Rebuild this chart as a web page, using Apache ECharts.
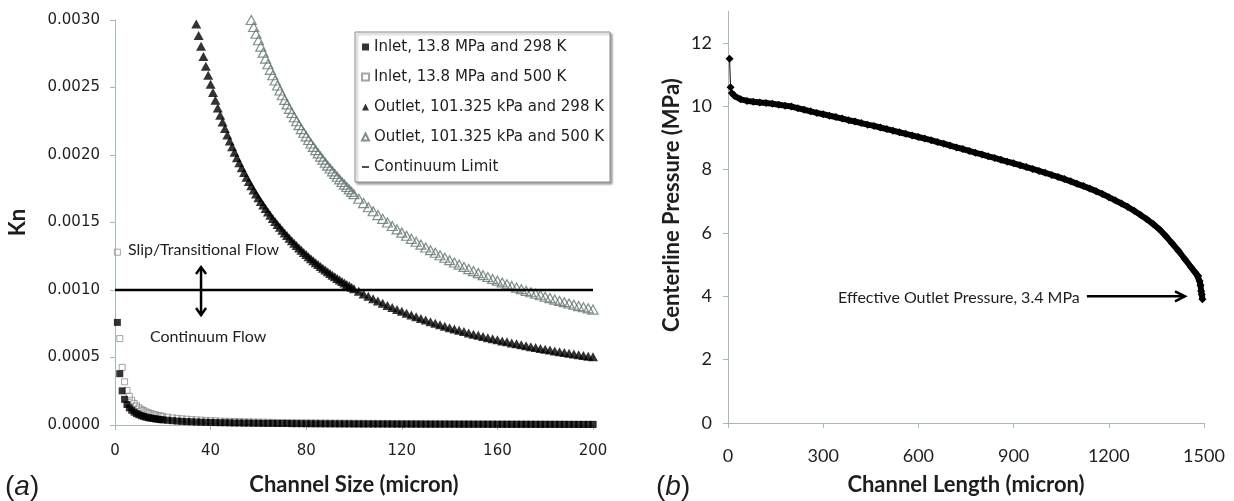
<!DOCTYPE html>
<html><head><meta charset="utf-8">
<script src="https://cdn.jsdelivr.net/npm/echarts@6/dist/echarts.min.js"></script>
<style>html,body{margin:0;padding:0;background:#fff}#c{width:1234px;height:501px}</style>
</head><body><div id="c"></div>
<script>
// ---------- DATA ----------
function range(a, b, s) { const r = []; for (let v = a; v <= b; v += s) r.push(v); return r; }

// Panel (a): channel size (micron) grids
const inletSize = range(1, 20, 1).concat(range(22, 200, 2));
const outlet298Size = range(34, 100, 1).concat(range(102, 200, 2));
const outlet500Size = range(57, 100, 1).concat(range(102, 200, 2));

const inlet298Kn = [
  7.6e-4, 3.8e-4, 2.53e-4, 1.9e-4, 1.52e-4, 1.27e-4, 1.09e-4, 9.5e-5, 8.4e-5, 7.6e-5,
  6.9e-5, 6.3e-5, 5.8e-5, 5.4e-5, 5.1e-5, 4.8e-5, 4.5e-5, 4.2e-5, 4.0e-5, 3.8e-5,
  3.5e-5, 3.2e-5, 2.9e-5, 2.7e-5, 2.5e-5, 2.4e-5, 2.2e-5, 2.1e-5, 2.0e-5, 1.9e-5,
  1.8e-5, 1.7e-5, 1.7e-5, 1.6e-5, 1.5e-5, 1.5e-5, 1.4e-5, 1.4e-5, 1.3e-5, 1.3e-5,
  1.2e-5, 1.2e-5, 1.2e-5, 1.1e-5, 1.1e-5, 1.1e-5, 1.0e-5, 1.0e-5, 9.7e-6, 9.5e-6,
  9.3e-6, 9.0e-6, 8.8e-6, 8.6e-6, 8.4e-6, 8.3e-6, 8.1e-6, 7.9e-6, 7.8e-6, 7.6e-6,
  7.5e-6, 7.3e-6, 7.2e-6, 7.0e-6, 6.9e-6, 6.8e-6, 6.7e-6, 6.6e-6, 6.4e-6, 6.3e-6,
  6.2e-6, 6.1e-6, 6.0e-6, 5.9e-6, 5.8e-6, 5.8e-6, 5.7e-6, 5.6e-6, 5.5e-6, 5.4e-6,
  5.4e-6, 5.3e-6, 5.2e-6, 5.1e-6, 5.1e-6, 5.0e-6, 4.9e-6, 4.9e-6, 4.8e-6, 4.8e-6,
  4.7e-6, 4.6e-6, 4.6e-6, 4.5e-6, 4.5e-6, 4.4e-6, 4.4e-6, 4.3e-6, 4.3e-6, 4.2e-6,
  4.2e-6, 4.1e-6, 4.1e-6, 4.0e-6, 4.0e-6, 4.0e-6, 3.9e-6, 3.9e-6, 3.8e-6, 3.8e-6
];
const inlet500Kn = [
  1.28e-3, 6.4e-4, 4.27e-4, 3.2e-4, 2.56e-4, 2.13e-4, 1.83e-4, 1.6e-4, 1.42e-4, 1.28e-4,
  1.16e-4, 1.07e-4, 9.8e-5, 9.1e-5, 8.5e-5, 8.0e-5, 7.5e-5, 7.1e-5, 6.7e-5, 6.4e-5,
  5.8e-5, 5.3e-5, 4.9e-5, 4.6e-5, 4.3e-5, 4.0e-5, 3.8e-5, 3.6e-5, 3.4e-5, 3.2e-5,
  3.1e-5, 2.9e-5, 2.8e-5, 2.7e-5, 2.6e-5, 2.5e-5, 2.4e-5, 2.3e-5, 2.2e-5, 2.1e-5,
  2.1e-5, 2.0e-5, 1.9e-5, 1.9e-5, 1.8e-5, 1.8e-5, 1.7e-5, 1.7e-5, 1.6e-5, 1.6e-5,
  1.56e-5, 1.52e-5, 1.49e-5, 1.45e-5, 1.42e-5, 1.39e-5, 1.36e-5, 1.33e-5, 1.31e-5, 1.28e-5,
  1.25e-5, 1.23e-5, 1.21e-5, 1.19e-5, 1.16e-5, 1.14e-5, 1.12e-5, 1.10e-5, 1.08e-5, 1.07e-5,
  1.05e-5, 1.03e-5, 1.02e-5, 1.00e-5, 9.8e-6, 9.7e-6, 9.6e-6, 9.4e-6, 9.3e-6, 9.1e-6,
  9.0e-6, 8.9e-6, 8.8e-6, 8.6e-6, 8.5e-6, 8.4e-6, 8.3e-6, 8.2e-6, 8.1e-6, 8.0e-6,
  7.9e-6, 7.8e-6, 7.7e-6, 7.6e-6, 7.5e-6, 7.4e-6, 7.4e-6, 7.3e-6, 7.2e-6, 7.1e-6,
  7.0e-6, 7.0e-6, 6.9e-6, 6.8e-6, 6.7e-6, 6.7e-6, 6.6e-6, 6.5e-6, 6.5e-6, 6.4e-6
];
const outlet298Kn = [
  0.002971, 0.002886, 0.002806, 0.00273, 0.002658, 0.00259, 0.002525, 0.002463, 0.002405, 0.002349,
  0.002295, 0.002244, 0.002196, 0.002149, 0.002104, 0.002061, 0.00202, 0.00198, 0.001942, 0.001906,
  0.00187, 0.001836, 0.001804, 0.001772, 0.001741, 0.001712, 0.001683, 0.001656, 0.001629, 0.001603,
  0.001578, 0.001554, 0.00153, 0.001507, 0.001485, 0.001464, 0.001443, 0.001423, 0.001403, 0.001384,
  0.001365, 0.001347, 0.001329, 0.001312, 0.001295, 0.001278, 0.001263, 0.001247, 0.001232, 0.001217,
  0.001202, 0.001188, 0.001174, 0.001161, 0.001148, 0.001135, 0.001122, 0.00111, 0.001098, 0.001086,
  0.001074, 0.001063, 0.001052, 0.001041, 0.001031, 0.00102, 0.00101,
  0.00099, 0.000971, 0.000953, 0.000935, 0.000918, 0.000902, 0.000886, 0.000871, 0.000856, 0.000842,
  0.000828, 0.000815, 0.000802, 0.000789, 0.000777, 0.000765, 0.000754, 0.000743, 0.000732, 0.000721,
  0.000711, 0.000701, 0.000692, 0.000682, 0.000673, 0.000664, 0.000656, 0.000647, 0.000639, 0.000631,
  0.000623, 0.000616, 0.000608, 0.000601, 0.000594, 0.000587, 0.00058, 0.000574, 0.000567, 0.000561,
  0.000555, 0.000549, 0.000543, 0.000537, 0.000532, 0.000526, 0.000521, 0.000515, 0.00051, 0.000505
];
const outlet500Kn = [
  0.003, 0.002948, 0.002898, 0.00285, 0.002803, 0.002758, 0.002714, 0.002672, 0.002631, 0.002591,
  0.002552, 0.002515, 0.002478, 0.002443, 0.002408, 0.002375, 0.002342, 0.002311, 0.00228, 0.00225,
  0.002221, 0.002192, 0.002165, 0.002138, 0.002111, 0.002085, 0.00206, 0.002036, 0.002012, 0.001988,
  0.001966, 0.001943, 0.001921, 0.0019, 0.001879, 0.001859, 0.001839, 0.001819, 0.0018, 0.001781,
  0.001763, 0.001745, 0.001727, 0.00171,
  0.001676, 0.001644, 0.001613, 0.001583, 0.001555, 0.001527, 0.0015, 0.001474, 0.001449, 0.001425,
  0.001402, 0.001379, 0.001357, 0.001336, 0.001315, 0.001295, 0.001276, 0.001257, 0.001239, 0.001221,
  0.001204, 0.001188, 0.001171, 0.001155, 0.00114, 0.001125, 0.00111, 0.001096, 0.001082, 0.001069,
  0.001056, 0.001043, 0.00103, 0.001018, 0.001006, 0.000994, 0.000983, 0.000972, 0.000961, 0.00095,
  0.00094, 0.000929, 0.000919, 0.00091, 0.0009, 0.000891, 0.000881, 0.000872, 0.000864, 0.000855
];
const continuumSize = [0, 200];
const continuumKn = [0.001, 0.001];
const knTicks = [0, 0.0005, 0.001, 0.0015, 0.002, 0.0025, 0.003];

const seriesNamesA = [
  'Inlet, 13.8 MPa and 298 K',
  'Inlet, 13.8 MPa and 500 K',
  'Outlet, 101.325 kPa and 298 K',
  'Outlet, 101.325 kPa and 500 K',
  'Continuum Limit'
];

// Panel (b): centerline pressure along the channel
const channelLength = [
  5, 8, 12, 20, 40, 60, 80, 100, 120, 140, 160, 180, 200, 220, 240, 260, 280, 300,
  320, 340, 360, 380, 400, 420, 440, 460, 480, 500, 520, 540, 560, 580, 600,
  620, 640, 660, 680, 700, 720, 740, 760, 780, 800, 820, 840, 860, 880, 900,
  920, 940, 960, 980, 1000, 1020, 1040, 1060, 1080, 1100, 1120, 1140, 1160, 1180, 1200,
  1220, 1240, 1260, 1280, 1300, 1320, 1340, 1360, 1380, 1400, 1420, 1440, 1460,
  1470, 1477, 1482, 1486, 1489, 1491, 1493, 1495
];
const centerPressure = [
  11.5, 10.6, 10.42, 10.33, 10.22, 10.17, 10.14, 10.12, 10.10, 10.08, 10.05, 10.02, 9.99, 9.94, 9.89, 9.84, 9.79, 9.75,
  9.70, 9.66, 9.61, 9.56, 9.52, 9.47, 9.42, 9.38, 9.33, 9.28, 9.23, 9.18, 9.13, 9.08, 9.03,
  8.98, 8.93, 8.87, 8.82, 8.76, 8.70, 8.65, 8.59, 8.53, 8.48, 8.42, 8.37, 8.31, 8.25, 8.20,
  8.14, 8.08, 8.02, 7.96, 7.90, 7.83, 7.77, 7.70, 7.63, 7.55, 7.48, 7.40, 7.32, 7.23, 7.13,
  7.03, 6.93, 6.82, 6.70, 6.57, 6.43, 6.28, 6.11, 5.90, 5.67, 5.43, 5.17, 4.91,
  4.78, 4.69, 4.64, 4.48, 4.35, 4.17, 4.06, 3.91
];
const pTicks = [0, 2, 4, 6, 8, 10, 12];

// ---------- CHART ----------
const zip = (xs, ys) => xs.map((x, i) => [x, ys[i]]);
const AXC = '#a4bab3';
const TXT = '#1e1e1e';
const NAMEFONT = { fontFamily: 'Lato', fontWeight: 'bold', fontSize: 22, color: TXT };

const chart = echarts.init(document.getElementById('c'));
const pressureData = zip(channelLength, centerPressure);
const option = {
  animation: false,
  backgroundColor: '#fff',
  grid: [
    { left: 115, top: 20, width: 478, height: 405 },
    { left: 728, top: 11.25, width: 476, height: 412.75 }
  ],
  xAxis: [
    {
      gridIndex: 0, type: 'value', min: 0, max: 200, interval: 40,
      name: 'Channel Size (micron)', nameLocation: 'middle', nameGap: 49,
      nameTextStyle: NAMEFONT,
      axisLine: { lineStyle: { color: AXC } },
      axisTick: { length: 5, lineStyle: { color: AXC } },
      axisLabel: { margin: 19, fontFamily: 'DejaVu Sans', fontSize: 15, color: TXT },
      splitLine: { show: false }
    },
    {
      gridIndex: 1, type: 'value', min: 0, max: 1500, interval: 300,
      name: 'Channel Length (micron)', nameLocation: 'middle', nameGap: 51,
      nameTextStyle: NAMEFONT,
      axisLine: { lineStyle: { color: AXC } },
      axisTick: { length: 5, lineStyle: { color: AXC } },
      axisLabel: { margin: 24, fontFamily: 'Lato', fontSize: 18, color: TXT, formatter: v => String(v) },
      splitLine: { show: false }
    }
  ],
  yAxis: [
    {
      gridIndex: 0, type: 'value', min: 0, max: 0.003,
      name: 'Kn', nameLocation: 'middle', nameGap: 86,
      nameTextStyle: NAMEFONT,
      axisLine: { show: true, lineStyle: { color: AXC } },
      axisTick: { show: true, length: 5, customValues: knTicks, lineStyle: { color: AXC } },
      axisLabel: { margin: 15, fontFamily: 'DejaVu Sans', fontSize: 15, color: TXT,
        customValues: knTicks, formatter: v => v.toFixed(4) },
      splitLine: { show: false }
    },
    {
      gridIndex: 1, type: 'value', min: 0, max: 13,
      name: 'Centerline Pressure (MPa)', nameLocation: 'middle', nameGap: 45,
      nameTextStyle: Object.assign({}, NAMEFONT, { padding: [0, 0, 0, 24] }),
      axisLine: { show: true, lineStyle: { color: AXC } },
      axisTick: { show: true, length: 5, customValues: pTicks, lineStyle: { color: AXC } },
      axisLabel: { margin: 16, fontFamily: 'Lato', fontSize: 18, color: TXT, customValues: pTicks },
      splitLine: { show: false }
    }
  ],
  legend: {
    left: 355, top: 32, orient: 'vertical', selectedMode: false,
    backgroundColor: '#fff', borderColor: '#8a8a8a', borderWidth: 1,
    shadowColor: 'rgba(0,0,0,0.35)', shadowBlur: 2, shadowOffsetX: 2, shadowOffsetY: 2,
    padding: [7, 6, 7, 6], itemGap: 14, itemWidth: 7, itemHeight: 7,
    textStyle: { fontFamily: 'DejaVu Sans', fontSize: 15, color: TXT, lineHeight: 16 },
    data: [
      { name: seriesNamesA[0], icon: 'rect' },
      { name: seriesNamesA[1], icon: 'rect' },
      { name: seriesNamesA[2], icon: 'triangle' },
      { name: seriesNamesA[3], icon: 'triangle' },
      { name: seriesNamesA[4], icon: 'path://M0,0H10V2H0Z' }
    ]
  },
  series: [
    { name: seriesNamesA[1], type: 'scatter', xAxisIndex: 0, yAxisIndex: 0, z: 2,
      symbol: 'rect', symbolSize: 6, data: zip(inletSize, inlet500Kn),
      itemStyle: { color: 'rgba(255,255,255,0)', borderColor: '#8d8d8d', borderWidth: 1 } },
    { name: seriesNamesA[0], type: 'scatter', xAxisIndex: 0, yAxisIndex: 0, z: 3,
      symbol: 'rect', symbolSize: 7, data: zip(inletSize, inlet298Kn),
      itemStyle: { color: '#000' } },
    { name: seriesNamesA[2], type: 'scatter', xAxisIndex: 0, yAxisIndex: 0, z: 3,
      symbol: 'triangle', symbolSize: [10, 9], data: zip(outlet298Size, outlet298Kn),
      itemStyle: { color: '#000' } },
    { name: seriesNamesA[3], type: 'scatter', xAxisIndex: 0, yAxisIndex: 0, z: 4,
      symbol: 'triangle', symbolSize: [10, 9], data: zip(outlet500Size, outlet500Kn),
      itemStyle: { color: 'rgba(255,255,255,0)', borderColor: '#627370', borderWidth: 1.2 } },
    { name: seriesNamesA[4], type: 'line', xAxisIndex: 0, yAxisIndex: 0, z: 5,
      showSymbol: false, symbol: 'none', data: zip(continuumSize, continuumKn),
      lineStyle: { color: '#000', width: 2.5 }, itemStyle: { color: '#000' } },
    { name: 'Centerline Pressure band', type: 'line', xAxisIndex: 1, yAxisIndex: 1,
      symbol: 'none', data: pressureData.slice(2),
      lineStyle: { color: '#000', width: 6, join: 'round' } },
    { name: 'Centerline Pressure', type: 'line', xAxisIndex: 1, yAxisIndex: 1,
      symbol: 'diamond', symbolSize: 8, data: pressureData,
      lineStyle: { color: '#000', width: 1 }, itemStyle: { color: '#000' } }
  ]
};
chart.setOption(option);

// ---------- ANNOTATIONS (anchored through the axes) ----------
function px(g, x, y) { return chart.convertToPixel({ gridIndex: g }, [x, y]); }
function arrow(a, b, len, half, both) {
  const dx = b[0] - a[0], dy = b[1] - a[1], L = Math.hypot(dx, dy);
  const ux = dx / L, uy = dy / L, nx = -uy, ny = ux;
  const st = { stroke: '#000', lineWidth: 2.5, fill: null, lineJoin: 'miter' };
  const out = [{ type: 'polyline', shape: { points: [a, b] }, style: st }];
  const head = (t, sx, sy) => ({ type: 'polyline', style: st, shape: { points: [
    [t[0] - len * sx + half * nx, t[1] - len * sy + half * ny], t,
    [t[0] - len * sx - half * nx, t[1] - len * sy - half * ny]] } });
  out.push(head(b, ux, uy));
  if (both) out.push(head(a, -ux, -uy));
  return out;
}
function label(p, text, size) {
  return { type: 'text', x: p[0], y: p[1],
    style: { text: text, fontFamily: 'Lato', fontSize: size, fill: TXT, align: 'left', verticalAlign: 'middle' } };
}
const panelRich = {
  n: { fontFamily: 'Liberation Sans', fontSize: 28, fill: TXT },
  i: { fontFamily: 'Liberation Sans', fontStyle: 'italic', fontSize: 28, fill: TXT }
};
const g = [];
g.push(...arrow(px(0, 36, 0.00117), px(0, 36, 0.000815), 7, 5, true));
g.push(label(px(0, 5.4, 0.0013), 'Slip/Transitional Flow', 16));
g.push(label(px(0, 14.6, 0.00065), 'Continuum Flow', 16));
g.push(...arrow(px(1, 1131, 4.0), px(1, 1440, 4.0), 10, 5, false));
g.push(label(px(1, 347, 3.94), 'Effective Outlet Pressure, 3.4 MPa', 16));
g.push({ type: 'text', x: 5, y: 487, style: { text: '{n|(}{i|a}{n|)}', verticalAlign: 'middle', rich: panelRich } });
g.push({ type: 'text', x: 656, y: 487, style: { text: '{n|(}{i|b}{n|)}', verticalAlign: 'middle', rich: panelRich } });
chart.setOption({ graphic: g });
</script>
</body></html>
